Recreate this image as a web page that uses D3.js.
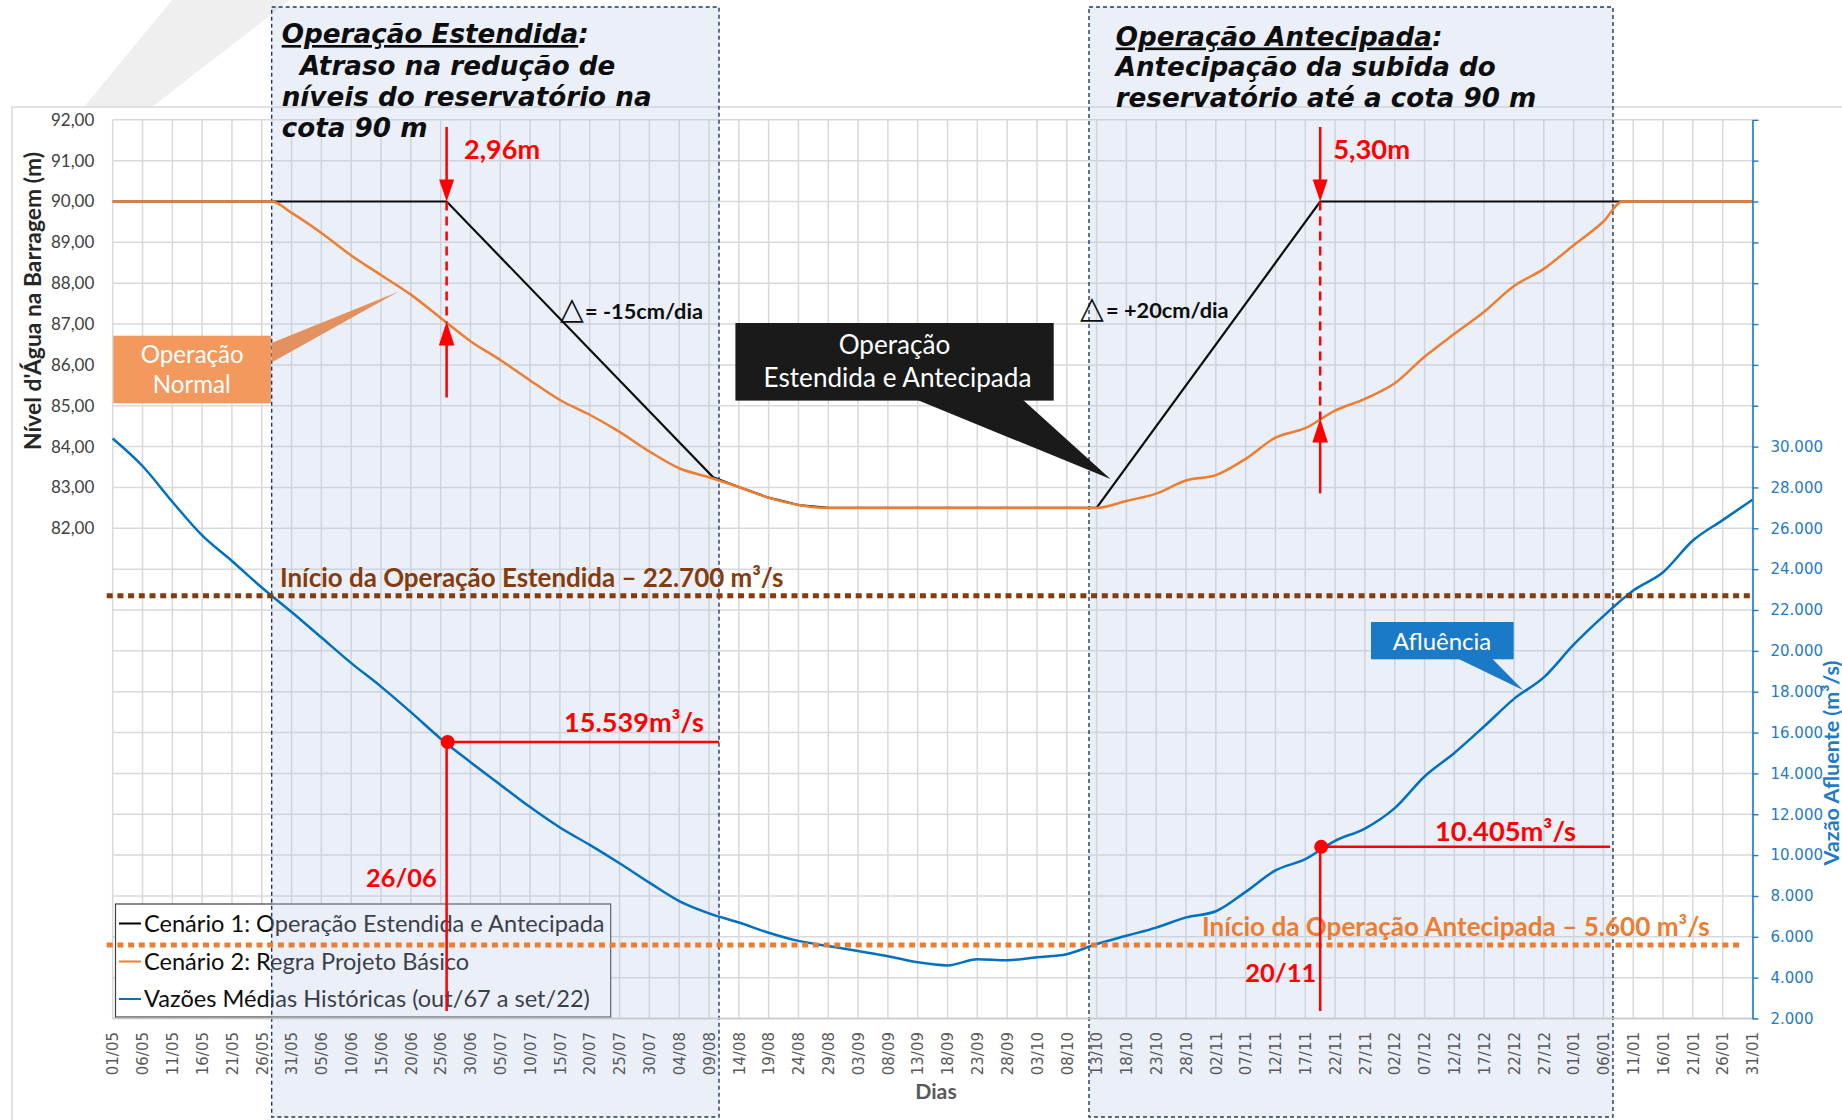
<!DOCTYPE html>
<html><head><meta charset="utf-8">
<script src="https://cdn.jsdelivr.net/npm/d3@7"></script>
<style>body{margin:0;background:#fff}svg{display:block}</style>
</head><body>
<svg id="c" width="1842" height="1120"></svg>
<script>
// ================= DATA =================
const tickLabels = ["01/05","06/05","11/05","16/05","21/05","26/05","31/05","05/06","10/06","15/06","20/06","25/06","30/06",
 "05/07","10/07","15/07","20/07","25/07","30/07","04/08","09/08","14/08","19/08","24/08","29/08","03/09","08/09","13/09",
 "18/09","23/09","28/09","03/10","08/10","13/10","18/10","23/10","28/10","02/11","07/11","12/11","17/11","22/11","27/11",
 "02/12","07/12","12/12","17/12","22/12","27/12","01/01","06/01","11/01","16/01","21/01","26/01","31/01"];
const tickDays = tickLabels.map((d,i)=>i*5);   // one label every 5 days, day 0 = 01/05

// Vazões Médias Históricas (m³/s), one value per tick day
const blueFlow = [30400,29050,27300,25650,24400,23100,21900,20650,19400,18250,17000,15700,14550,
 13450,12350,11350,10500,9600,8650,7750,7150,6700,6200,5800,5550,5300,5050,4750,
 4600,4900,4850,5000,5150,5650,6050,6450,6950,7250,8200,9250,9800,10700,11300,
 12300,13850,15000,16300,17650,18700,20300,21700,22950,23850,25400,26400,27400];

// Cenário 2: Regra Projeto Básico  [day, level m]
const orangePts = [[0,90],[26.7,90],[30,89.72],[35,89.23],[40,88.68],[45,88.2],[50,87.72],[55,87.15],[60,86.58],
 [65,86.12],[70,85.62],[75,85.14],[80,84.78],[85,84.36],[90,83.88],[95,83.47],[100,83.25],[105,83.01],[110,82.75],
 [115,82.57],[120,82.5],[165,82.5],[170,82.67],[175,82.85],[180,83.17],[185,83.3],[190,83.7],[195,84.22],[200,84.45],
 [205,84.88],[210,85.17],[215,85.55],[220,86.2],[225,86.76],[230,87.3],[235,87.93],[240,88.35],[245,88.93],
 [250,89.51],[253.2,90],[275,90]];

// Cenário 1: Operação Estendida e Antecipada  [day, level m]
const blackPts = [[0,90],[56,90],[100.7,83.25],[105,83.01],[110,82.75],[115,82.57],[120,82.5],[165,82.5],[202.5,90],[275,90]];

const levelTicks = [82,83,84,85,86,87,88,89,90,91,92];
const flowTicks = [2000,4000,6000,8000,10000,12000,14000,16000,18000,20000,22000,24000,26000,28000,30000];

const refLines = [
  {flow:22700, label:"Início da Operação Estendida – 22.700 m³/s", color:"#843C0C"},
  {flow:5600,  label:"Início da Operação Antecipada – 5.600 m³/s", color:"#ED7D31"}
];
const markers = [
  {day:56,    flow:15539, flowLabel:"15.539m³/s", dateLabel:"26/06", diffLabel:"2,96m"},
  {day:202.5, flow:10405, flowLabel:"10.405m³/s", dateLabel:"20/11", diffLabel:"5,30m"}
];
const rateLabels = [["△","= -15cm/dia"],["△","= +20cm/dia"]];
const legendItems = [
  {label:"Cenário 1: Operação Estendida e Antecipada", color:"#000000"},
  {label:"Cenário 2: Regra Projeto Básico", color:"#ED7D31"},
  {label:"Vazões Médias Históricas (out/67 a set/22)", color:"#0070C0"}
];
const phaseBoxes = [{from:26.66, to:101.68}, {from:163.73, to:251.6}];
const phaseTitles = [
  [["Operação Estendida",":"],"Atraso na redução de","níveis do reservatório na","cota 90 m"],
  [["Operação Antecipada",":"],"Antecipação da subida do","reservatório até a cota 90 m"]
];

// ================= SETUP =================
const svg = d3.select("#c");
const CAL = "Lato, 'Open Sans', 'DejaVu Sans', sans-serif";
const VER = "'DejaVu Sans', Verdana, sans-serif";
const x  = d3.scaleLinear().domain([0,275]).range([112.7,1752.5]);
const yL = d3.scaleLinear().domain([70,92]).range([1018.5,119.8]);
const yR = d3.scaleLinear().domain([2000,46000]).range([1018.5,119.8]);
const loc = d3.formatLocale({decimal:",", thousands:".", grouping:[3], currency:["R$",""]});
const fmtL = loc.format(",.2f"), fmtR = loc.format(",.0f");
const orangeAt = d3.scaleLinear().domain(orangePts.map(d=>d[0])).range(orangePts.map(d=>d[1]));
function fitW(t, w){ const l=t.node().getComputedTextLength(); const fs=parseFloat(t.attr("font-size")); const n=fs*w/l; t.attr("font-size",n); return n; }

// watermark shape
svg.append("path").attr("d","M84,107 L152,107 L290,0 L172,0 Z").attr("fill","#efefef");
// outer chart frame
svg.append("rect").attr("x",12).attr("y",107).attr("width",1900).attr("height",1100)
  .attr("fill","none").attr("stroke","#d9d9d9").attr("stroke-width",1.5);

// gridlines
const grid = svg.append("g");
grid.selectAll(".hg").data(yL.ticks(22)).join("line")
  .attr("x1",x(0)).attr("x2",x(275)).attr("y1",d=>yL(d)).attr("y2",d=>yL(d))
  .attr("stroke","#d9d9d9").attr("stroke-width",1.5);
grid.selectAll(".vg").data(tickDays).join("line")
  .attr("x1",d=>x(d)).attr("x2",d=>x(d)).attr("y1",yL(92)).attr("y2",yL(70))
  .attr("stroke","#d9d9d9").attr("stroke-width",1.5);

// legend box (behind the phase overlay)
const lgX0 = 115.5, lgY0 = 904, lgX1 = 610.7, lgY1 = 1017;
svg.append("rect").attr("x",lgX0).attr("y",lgY0).attr("width",lgX1-lgX0).attr("height",lgY1-lgY0)
  .attr("fill","#fff").attr("stroke","#404040").attr("stroke-width",1.2);
const lgBase = [931.5, 969.5, 1007];
const lg = svg.append("g");
lg.selectAll("line").data(legendItems).join("line")
  .attr("x1",119).attr("x2",141).attr("y1",(d,i)=>lgBase[i]-8).attr("y2",(d,i)=>lgBase[i]-8)
  .attr("stroke",d=>d.color).attr("stroke-width",2);
const lgT = lg.selectAll("text").data(legendItems).join("text")
  .attr("x",144).attr("y",(d,i)=>lgBase[i]).attr("font-family",CAL).attr("font-size",24)
  .attr("fill","#0d0d0d").text(d=>d.label);
const lgFs = fitW(d3.select(lgT.nodes()[0]), 461);
lgT.attr("font-size", lgFs);

// "Operação Normal" callout box (under overlay)
svg.append("rect").attr("x",113.3).attr("y",335.7).attr("width",157.7).attr("height",67.6).attr("fill","#F4995E");
const onT1 = svg.append("text").attr("x",192.3).attr("y",355).attr("dy","0.35em").attr("text-anchor","middle")
  .attr("font-family",CAL).attr("font-size",24).attr("fill","#fff").text("Operação");
const onFs = fitW(onT1,103);
svg.append("text").attr("x",191.7).attr("y",385).attr("dy","0.35em").attr("text-anchor","middle")
  .attr("font-family",CAL).attr("font-size",onFs).attr("fill","#fff").text("Normal");

// phase overlay boxes
svg.selectAll(".pb").data(phaseBoxes).join("rect")
  .attr("x",d=>x(d.from)).attr("width",d=>x(d.to)-x(d.from)).attr("y",7).attr("height",1110)
  .attr("fill","rgba(178,196,230,0.27)").attr("stroke","#1F3864").attr("stroke-width",1.4)
  .attr("stroke-dasharray","4,3");
// wedge of the "Operação Normal" callout
svg.append("path").attr("d","M271.5,343 L398.3,291.7 L271.5,362.5 Z").attr("fill","#E3925F");

// x axis line
svg.append("line").attr("x1",x(0)).attr("x2",x(275)+4).attr("y1",yL(70)).attr("y2",yL(70))
  .attr("stroke","#c9c9c9").attr("stroke-width",1.5);

// ================= SERIES =================
const lineL = d3.line().x(d=>x(d[0])).y(d=>yL(d[1]));
const lineLs = d3.line().x(d=>x(d[0])).y(d=>yL(d[1])).curve(d3.curveMonotoneX);
const lineR = d3.line().x((d,i)=>x(tickDays[i])).y(d=>yR(d)).curve(d3.curveMonotoneX);
svg.append("path").attr("d",lineL(blackPts)).attr("fill","none").attr("stroke","#0d0d0d").attr("stroke-width",2.2);
svg.append("path").attr("d",lineLs(orangePts)).attr("fill","none").attr("stroke","#ED7D31").attr("stroke-width",2.5);
svg.append("path").attr("d",lineR(blueFlow)).attr("fill","none").attr("stroke","#0070C0").attr("stroke-width",2.5);

// reference dotted lines
const refEnd = [x(275), 1740];
svg.selectAll(".ref").data(refLines).join("line")
  .attr("x1",106.7).attr("x2",(d,i)=>refEnd[i]).attr("y1",d=>yR(d.flow)).attr("y2",d=>yR(d.flow))
  .attr("stroke",d=>d.color).attr("stroke-width",5).attr("stroke-dasharray","6,4.7");
const refTx = [{x:280,w:503.5,dy:-8.5},{x:1202,w:508,dy:-8.5}];
refLines.forEach((d,i)=>{
  const t = svg.append("text").attr("x",refTx[i].x).attr("y",yR(d.flow)+refTx[i].dy)
    .attr("font-family",CAL).attr("font-weight","bold").attr("font-size",24).attr("fill",d.color).text(d.label);
  fitW(t, refTx[i].w);
});

// black callout
svg.append("path").attr("d","M915,399 L1022,399 L1110.5,479 Z").attr("fill","#1a1a1a");
svg.append("rect").attr("x",735.4).attr("y",323).attr("width",318.3).attr("height",77.6).attr("fill","#1a1a1a");
const bc2 = svg.append("text").attr("x",897.5).attr("y",378).attr("dy","0.35em").attr("text-anchor","middle")
  .attr("font-family",CAL).attr("font-size",24).attr("fill","#fff").text("Estendida e Antecipada");
const bcFs = fitW(bc2,268);
svg.append("text").attr("x",894.5).attr("y",345).attr("dy","0.35em").attr("text-anchor","middle")
  .attr("font-family",CAL).attr("font-size",bcFs).attr("fill","#fff").text("Operação");

// Afluência callout
svg.append("path").attr("d","M1456.7,658 L1491.5,658 L1523.3,690.3 Z").attr("fill","#1A7AC8");
svg.append("rect").attr("x",1371).attr("y",622).attr("width",142.7).attr("height",37.3).attr("fill","#1A7AC8");
const af = svg.append("text").attr("x",1442).attr("y",641.4).attr("dy","0.35em").attr("text-anchor","middle")
  .attr("font-family",CAL).attr("font-size",22).attr("fill","#fff").text("Afluência");
fitW(af,98.5);

// rate labels (triangle + text)
const rateTx = [{x:560,xt:585,y:319,w:118},{x:1080,xt:1106,y:318,w:122.7}];
rateLabels.forEach((s,i)=>{
  const t = svg.append("text").attr("y",rateTx[i].y).attr("fill","#0d0d0d");
  t.append("tspan").attr("x",rateTx[i].x).attr("font-family",VER).attr("font-weight","bold").attr("font-size",31).text(s[0]);
  const r = t.append("tspan").attr("x",rateTx[i].xt).attr("font-family",CAL).attr("font-weight","bold")
    .attr("font-size",20).text(s[1]);
  const l = r.node().getComputedTextLength();
  r.attr("font-size", 20*rateTx[i].w/l);
});

// ================= RED ANNOTATIONS =================
const RED = "#FF0000";
const diffTx = [{dx:17.5,w:76},{dx:13,w:77}];
const flowTx = [{xr:704, dy:-10, w:140, xEnd:x(phaseBoxes[0].to)},{xr:1576, dy:-6, w:141, xEnd:1610}];
const dateTx = [{dx:-10, y:886.6, w:70.6},{dx:-4, y:982, w:71}];
const upBottom = [397.5, 493.3];
markers.forEach((m,i)=>{
  const mx = x(m.day), y90 = yL(90), yo = yL(orangeAt(m.day));
  const g = svg.append("g");
  g.append("line").attr("x1",mx).attr("x2",mx).attr("y1",127).attr("y2",y90-20).attr("stroke",RED).attr("stroke-width",2.5);
  g.append("path").attr("d",`M${mx-7.5},${y90-22} L${mx+7.5},${y90-22} L${mx},${y90} Z`).attr("fill",RED);
  g.append("line").attr("x1",mx).attr("x2",mx).attr("y1",y90).attr("y2",yo).attr("stroke",RED)
    .attr("stroke-width",2.5).attr("stroke-dasharray","9,6");
  g.append("path").attr("d",`M${mx-7.8},${yo+23} L${mx+7.8},${yo+23} L${mx},${yo-1} Z`).attr("fill",RED);
  g.append("line").attr("x1",mx).attr("x2",mx).attr("y1",yo+20).attr("y2",upBottom[i]).attr("stroke",RED).attr("stroke-width",2.5);
  const dt = g.append("text").attr("x",mx+diffTx[i].dx).attr("y",159).attr("font-family",CAL)
    .attr("font-weight","bold").attr("font-size",24).attr("fill",RED).text(m.diffLabel);
  fitW(dt, diffTx[i].w);
  const fy = yR(m.flow);
  g.append("line").attr("x1",mx).attr("x2",flowTx[i].xEnd).attr("y1",fy).attr("y2",fy).attr("stroke",RED).attr("stroke-width",2.5);
  g.append("line").attr("x1",mx).attr("x2",mx).attr("y1",fy).attr("y2",1011).attr("stroke",RED).attr("stroke-width",2.5);
  g.append("circle").attr("cx",mx+1).attr("cy",fy).attr("r",7).attr("fill",RED);
  const ft = g.append("text").attr("x",flowTx[i].xr).attr("y",fy+flowTx[i].dy).attr("text-anchor","end")
    .attr("font-family",CAL).attr("font-weight","bold").attr("font-size",26).attr("fill",RED).text(m.flowLabel);
  fitW(ft, flowTx[i].w);
  const dd = g.append("text").attr("x",mx+dateTx[i].dx).attr("y",dateTx[i].y).attr("text-anchor","end")
    .attr("font-family",CAL).attr("font-weight","bold").attr("font-size",26).attr("fill",RED).text(m.dateLabel);
  fitW(dd, dateTx[i].w);
});

// ================= PHASE TITLES =================
const titleX = [281.7, 1115.7], titleB = [[43,74.5,106,137],[45.5,76,106.5]];
const fitLine = [[2,370],[2,421]];
const indent = [[0,18.3,0,0],[0,0,0]];
phaseTitles.forEach((lines,k)=>{
  const t = svg.append("text").attr("font-family",VER).attr("font-weight","bold").attr("font-style","italic")
    .attr("font-size",25).attr("fill","#0d0d0d");
  const rows = lines.map((ln,j)=>{
    const r = t.append("tspan").attr("x",titleX[k]+indent[k][j]).attr("y",titleB[k][j]);
    if (Array.isArray(ln)) {
      r.append("tspan").style("text-decoration","underline").text(ln[0]);
      r.append("tspan").text(ln[1]);
    } else r.text(ln);
    return r;
  });
  const n = rows[fitLine[k][0]].node().getComputedTextLength();
  t.attr("font-size", 25*fitLine[k][1]/n);
});

// ================= AXES =================
const ax = svg.append("g").attr("transform",`translate(0,${yL(70)})`)
  .call(d3.axisBottom(x).tickValues(tickDays).tickFormat((d,i)=>tickLabels[i]).tickSize(0));
ax.select(".domain").remove();
ax.selectAll("text").attr("transform","rotate(-90)").attr("x",-13.5).attr("y",0).attr("dy","0.35em")
  .attr("text-anchor","end").attr("font-family",VER).attr("font-size",15).attr("fill","#595959");

const al = svg.append("g").attr("transform",`translate(${x(0)},0)`)
  .call(d3.axisLeft(yL).tickValues(levelTicks).tickFormat(fmtL).tickSize(0).tickPadding(18.4));
al.select(".domain").remove();
al.selectAll("text").attr("font-family",CAL).attr("font-size",17).attr("fill","#404040");

const BLUE = "#1F7BC8";
const ar = svg.append("g").attr("transform",`translate(${x(275)},0)`)
  .call(d3.axisRight(yR).tickValues(d3.range(2000,46001,2000)).tickFormat(d=>flowTicks.includes(d)?fmtR(d):"")
    .tickSize(6).tickSizeOuter(0).tickPadding(12));
ar.select(".domain").attr("stroke",BLUE).attr("stroke-width",1.6);
ar.selectAll(".tick line").attr("stroke",BLUE).attr("stroke-width",1.4);
ar.selectAll("text").attr("font-family",VER).attr("font-size",15).attr("fill",BLUE);

// axis titles
const yt = svg.append("text").attr("transform","translate(33,301) rotate(-90)").attr("dy","0.35em")
  .attr("text-anchor","middle").attr("font-family",CAL).attr("font-weight","bold").attr("font-size",20)
  .attr("fill","#262626").text("Nível d'Água na Barragem (m)");
fitW(yt,298);
const rt = svg.append("text").attr("transform","translate(1838.5,763) rotate(-90)")
  .attr("text-anchor","middle").attr("font-family",CAL).attr("font-weight","bold").attr("font-size",18)
  .attr("fill",BLUE).text("Vazão Afluente (m³/s)");
fitW(rt,205);
const dt = svg.append("text").attr("x",936).attr("y",1091.7).attr("dy","0.35em").attr("text-anchor","middle")
  .attr("font-family",CAL).attr("font-weight","bold").attr("font-size",20).attr("fill","#595959").text("Dias");
fitW(dt,41.5);
</script>
</body></html>
